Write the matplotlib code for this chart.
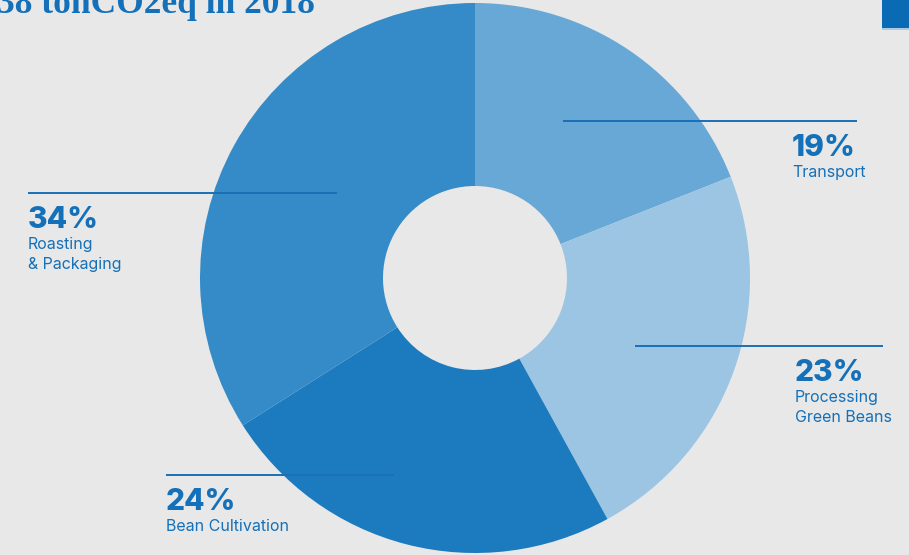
import matplotlib.pyplot as plt
from matplotlib.patches import Rectangle

labels = ["Transport", "Processing\nGreen Beans", "Bean Cultivation", "Roasting\n& Packaging"]
shares = [19, 23, 24, 34]
colors = ["#67a8d6", "#9bc5e3", "#1b7bbe", "#358bc7"]
title = "38 tonCO2eq in 2018"

bg = "#e8e8e8"
ink = "#1470b8"
H = 555

fig = plt.figure(figsize=(9.09, 5.55), dpi=100, facecolor=bg)
ax = fig.add_axes([0, 0, 1, 1])
ax.set_facecolor(bg)

# donut, drawn clockwise from 12 o'clock
ax.pie(shares, colors=colors, startangle=90, counterclock=False,
       center=(475, H - 278), radius=275,
       wedgeprops=dict(width=183, linewidth=0))

ax.set_xlim(0, 909)
ax.set_ylim(0, H)
ax.set_aspect("equal")
ax.axis("off")

# leader lines and labels: (line x0, line x1, line y, text x)
callouts = [
    (563, 857, 121, 792),
    (635, 883, 346, 795),
    (166, 394, 475, 166),
    (28, 337, 193, 28),
]
for (x0, x1, y, tx), lab, val in zip(callouts, labels, shares):
    ax.plot([x0, x1], [H - y, H - y], color="#1a6fb5", lw=1.4, solid_capstyle="butt")
    ax.text(tx, H - y - 13, f"{val}%", color=ink, fontsize=21.5, fontweight="heavy",
            family="Inter", va="top", ha="left")
    ax.text(tx, H - y - 44, lab, color=ink, fontsize=11.5, family="Inter",
            va="top", ha="left", linespacing=1.4)

# heading runs off the top edge
ax.text(-3, H - 13, title, color=ink, fontsize=25.5, fontweight="bold",
        family="Liberation Serif", va="baseline", ha="left")

ax.add_patch(Rectangle((882, H - 28), 30, 28, color="#0a6ab3", lw=0))
ax.add_patch(Rectangle((882, H - 30), 30, 2, color="#a9cbe6", lw=0))

fig.savefig("out.png", dpi=100, facecolor=bg)
